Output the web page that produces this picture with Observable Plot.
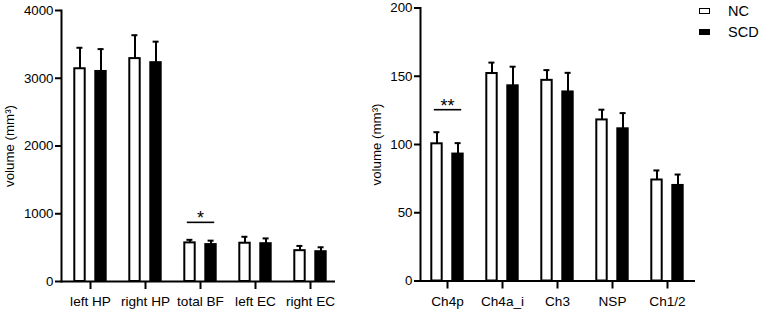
<!DOCTYPE html>
<html>
<head>
<meta charset="utf-8">
<script src="https://cdn.jsdelivr.net/npm/d3@7"></script>
<script src="https://cdn.jsdelivr.net/npm/@observablehq/plot@0.6"></script>
<style>
  html, body { margin: 0; padding: 0; background: #fff; }
  #root { position: relative; width: 765px; height: 310px; font-family: "Liberation Sans", Arial, sans-serif; color: #000; overflow: hidden; }
  #root svg { position: absolute; top: 0; overflow: visible; }
  .legend { position: absolute; left: 699px; top: 0; font-size: 14.5px; }
  .legend .row { position: absolute; left: 0; height: 18px; line-height: 18px; white-space: nowrap; }
  .legend .box { position: absolute; display: block; left: 0; top: 6.3px; width: 9px; height: 4px; border: 1.5px solid #000; }
  .legend .lab { position: absolute; left: 29px; top: 0; }
</style>
</head>
<body>
<div id="root"></div>
<script>
// ---- data ----
const seriesNames = ["NC", "SCD"];
const seriesFills = ["#fff", "#000"];

const leftCategories = ["left HP", "right HP", "total BF", "left EC", "right EC"];
const leftNC = [3140, 3290, 570, 565, 455];
const leftNCsd = [310, 345, 45, 95, 70];
const leftSCD = [3100, 3230, 545, 558, 440];
const leftSCDsd = [330, 310, 58, 78, 65];
const leftTicks = [0, 1000, 2000, 3000, 4000];
const leftSigCategory = ["total BF"];
const leftSigValue = [873];
const leftSigLabel = ["*"];

const rightCategories = ["Ch4p", "Ch4a_i", "Ch3", "NSP", "Ch1/2"];
const rightNC = [100.5, 152, 147, 118, 74];
const rightNCsd = [8.5, 8, 7.5, 7.5, 7];
const rightSCD = [93, 143, 138.5, 111.5, 70];
const rightSCDsd = [8, 14, 14, 11.5, 8];
const rightTicks = [0, 50, 100, 150, 200];
const rightSigCategory = ["Ch4p"];
const rightSigValue = [125.5];
const rightSigLabel = ["**"];

const yLabel = "volume (mm³)";

function panel(o) {
  const rows = o.categories.map((c, i) => ({
    category: c,
    nc: o.nc[i], ncTop: o.nc[i] + o.ncSd[i],
    scd: o.scd[i], scdTop: o.scd[i] + o.scdSd[i]
  }));
  const sig = o.sigCategory.map((c, i) => ({category: c, y: o.sigValue[i], label: o.sigLabel[i]}));
  return Plot.plot({
    width: o.width,
    height: 310,
    marginLeft: o.marginLeft,
    marginRight: o.marginRight,
    marginTop: o.marginTop,
    marginBottom: o.marginBottom,
    style: {fontFamily: '"Liberation Sans", Arial, sans-serif', fontSize: "13.5px", color: "#000", background: "transparent", overflow: "visible"},
    x: {domain: o.categories, range: o.xRange, paddingInner: 0.2, paddingOuter: 0, label: null},
    y: {domain: [o.ticks[0], o.ticks[o.ticks.length - 1]], label: null},
    marks: [
      Plot.barY(rows, {x: "category", y: "nc", fill: seriesFills[0], stroke: "#000", strokeWidth: 2, insetLeft: 6.3, insetRight: 27.3}),
      Plot.barY(rows, {x: "category", y: "scd", fill: seriesFills[1], stroke: "#000", strokeWidth: 2, insetLeft: 27.3, insetRight: 6.3}),
      Plot.ruleX(rows, {x: "category", y1: "nc", y2: "ncTop", dx: -10.5, stroke: "#000", strokeWidth: 2}),
      Plot.ruleX(rows, {x: "category", y1: "scd", y2: "scdTop", dx: 10.5, stroke: "#000", strokeWidth: 2}),
      Plot.tickY(rows, {x: "category", y: "ncTop", stroke: "#000", strokeWidth: 2, insetLeft: 8.4, insetRight: 29.6}),
      Plot.tickY(rows, {x: "category", y: "scdTop", stroke: "#000", strokeWidth: 2, insetLeft: 29.6, insetRight: 8.4}),
      Plot.tickY(sig, {x: "category", y: "y", stroke: "#000", strokeWidth: 1.6, insetLeft: 8.8, insetRight: 7.8}),
      Plot.text(sig, {x: "category", y: "y", text: "label", lineAnchor: "bottom", dy: 2, fontSize: 18, fill: "#000"}),
      Plot.ruleY([o.ticks[0]], {stroke: "#000", strokeWidth: 2}),
      Plot.frame({anchor: "left", stroke: "#000", strokeWidth: 2}),
      Plot.axisY({ticks: o.ticks, tickFormat: d3.format("d"), tickSize: 6, tickPadding: 2, strokeWidth: 2, label: yLabel, labelAnchor: "center", labelArrow: "none", labelOffset: o.labelOffset, fontSize: 13.3}),
      Plot.axisX({tickSize: 8, tickPadding: 7, strokeWidth: 2, fontSize: 13.6})
    ]
  });
}

const root = document.getElementById("root");

const left = panel({
  categories: leftCategories, nc: leftNC, ncSd: leftNCsd, scd: leftSCD, scdSd: leftSCDsd,
  sigCategory: leftSigCategory, sigValue: leftSigValue, sigLabel: leftSigLabel,
  ticks: leftTicks, width: 365, marginLeft: 61, marginRight: 30, marginTop: 10, marginBottom: 29,
  xRange: [65.7, 333.3], labelOffset: 57
});
left.style.left = "0px";
root.appendChild(left);

const right = panel({
  categories: rightCategories, nc: rightNC, ncSd: rightNCsd, scd: rightSCD, scdSd: rightSCDsd,
  sigCategory: rightSigCategory, sigValue: rightSigValue, sigLabel: rightSigLabel,
  ticks: rightTicks, width: 400, marginLeft: 55, marginRight: 70, marginTop: 7.5, marginBottom: 29.5,
  xRange: [58.3, 325.2], labelOffset: 49
});
right.style.left = "365px";
root.appendChild(right);

// legend
const legend = document.createElement("div");
legend.className = "legend";
seriesNames.forEach((name, i) => {
  const row = document.createElement("div");
  row.className = "row";
  row.style.top = (2 + i * 20.5) + "px";
  const box = document.createElement("span");
  box.className = "box";
  box.style.background = seriesFills[i];
  const lab = document.createElement("span");
  lab.className = "lab";
  lab.textContent = name;
  row.appendChild(box);
  row.appendChild(lab);
  legend.appendChild(row);
});
root.appendChild(legend);
</script>
</body>
</html>
